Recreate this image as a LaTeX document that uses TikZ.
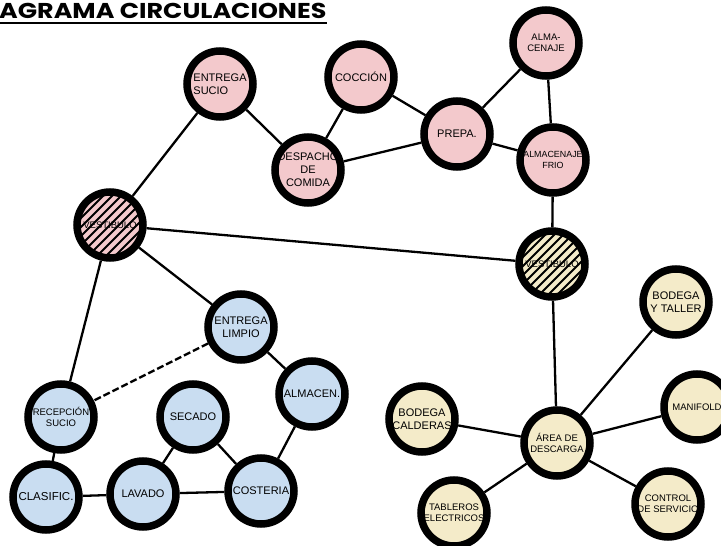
\documentclass[tikz,border=0pt]{standalone}
\usepackage{fontspec}
\setmainfont{Liberation Sans}
\newfontfamily\titlefont{Poppins}[FakeStretch=1.18]
\usepackage{tikz}
\usetikzlibrary{backgrounds}
\definecolor{pinkbg}{RGB}{243,201,204}
\definecolor{bluebg}{RGB}{201,221,241}
\definecolor{yellowbg}{RGB}{244,235,201}

\begin{document}
\begin{tikzpicture}[x=1pt,y=-1pt,
    room/.style={circle,draw,line width=7.5pt,minimum size=66pt,inner sep=0pt,fill=#1},
    hall/.style={room=#1,path picture={
        \foreach \k in {-90,-81,...,90}
          \draw[line width=1.8pt,shift={(path picture bounding box.center)}] (\k-45,45) -- (\k+45,-45);}},
    sm/.style={font=\fontsize{9.5}{11.2}\selectfont},
    every label/.style={font=\fontsize{11}{13.2}\selectfont,align=center,inner sep=0pt},
    link/.style={line width=2.3pt}]
  \useasboundingbox (0,0) rectangle (721,546);
  % title
  \node[anchor=base west,inner sep=0pt,font=\titlefont\bfseries\fontsize{21.5}{24}\selectfont] (title) at (-1,18) {AGRAMA CIRCULACIONES};
  \draw[line width=2pt] ([yshift=-5pt]title.base west) -- ([yshift=-5pt]title.base east);
  % kitchen
  \node[room=pinkbg,label={[align=left]center:ENTREGA\\SUCIO}] (es) at (220,84) {};
  \node[room=pinkbg,label={center:COCCIÓN}] (coc) at (361,77) {};
  \node[room=pinkbg,label={[sm]center:ALMA-\\CENAJE}] (alm) at (546,43) {};
  \node[room=pinkbg,label={center:PREPA.}] (prep) at (457,134) {};
  \node[room=pinkbg,label={[font=\fontsize{8.9}{11}\selectfont]center:ALMACENAJE\\FRIO}] (almf) at (553,160) {};
  \node[room=pinkbg,label={center:DESPACHO\\DE\\COMIDA}] (desp) at (308,170) {};
  \node[hall=pinkbg,label={[sm]center:VESTIBULO}] (vp) at (110,225) {};
  % laundry
  \node[room=bluebg,label={center:ENTREGA\\LIMPIO}] (el) at (241,327) {};
  \node[room=bluebg,label={center:ALMACEN.}] (almc) at (312,394) {};
  \node[room=bluebg,label={[sm]center:RECEPCIÓN\\SUCIO}] (rs) at (61,417) {};
  \node[room=bluebg,label={center:SECADO}] (sec) at (193,417) {};
  \node[room=bluebg,label={[font=\fontsize{11.5}{13}\selectfont]center:CLASIFIC.}] (cla) at (46,497) {};
  \node[room=bluebg,label={center:LAVADO}] (lav) at (143,494) {};
  \node[room=bluebg,label={center:COSTERIA}] (cos) at (261,491) {};
  % services
  \node[hall=yellowbg,label={[sm]center:VESTIBULO}] (vy) at (552,264) {};
  \node[room=yellowbg,label={center:BODEGA\\Y TALLER}] (bt) at (676,302) {};
  \node[room=yellowbg,label={[sm]center:MANIFOLD}] (man) at (697,407) {};
  \node[room=yellowbg,label={center:BODEGA\\CALDERAS}] (bc) at (422,419) {};
  \node[room=yellowbg,label={[sm]center:ÁREA DE\\DESCARGA}] (ad) at (557,443) {};
  \node[room=yellowbg,label={[sm]center:TABLEROS\\ELECTRICOS}] (tab) at (454,513) {};
  \node[room=yellowbg,label={[sm]center:CONTROL\\DE SERVICIO}] (ctl) at (668,504) {};
  % circulations
  \begin{scope}[on background layer]
    \foreach \a/\b in {es/vp,es/desp,coc/desp,coc/prep,desp/prep,prep/alm,prep/almf,alm/almf,
        almf/vy,vp/vy,vp/el,vp/rs,el/almc,almc/cos,rs/cla,cla/lav,lav/sec,sec/cos,lav/cos,
        vy/ad,ad/bt,ad/man,ad/ctl,ad/tab,ad/bc}
      \draw[link] (\a) -- (\b);
    \draw[link,dash pattern=on 7pt off 3pt] (el) -- (rs);
  \end{scope}
\end{tikzpicture}
\end{document}
